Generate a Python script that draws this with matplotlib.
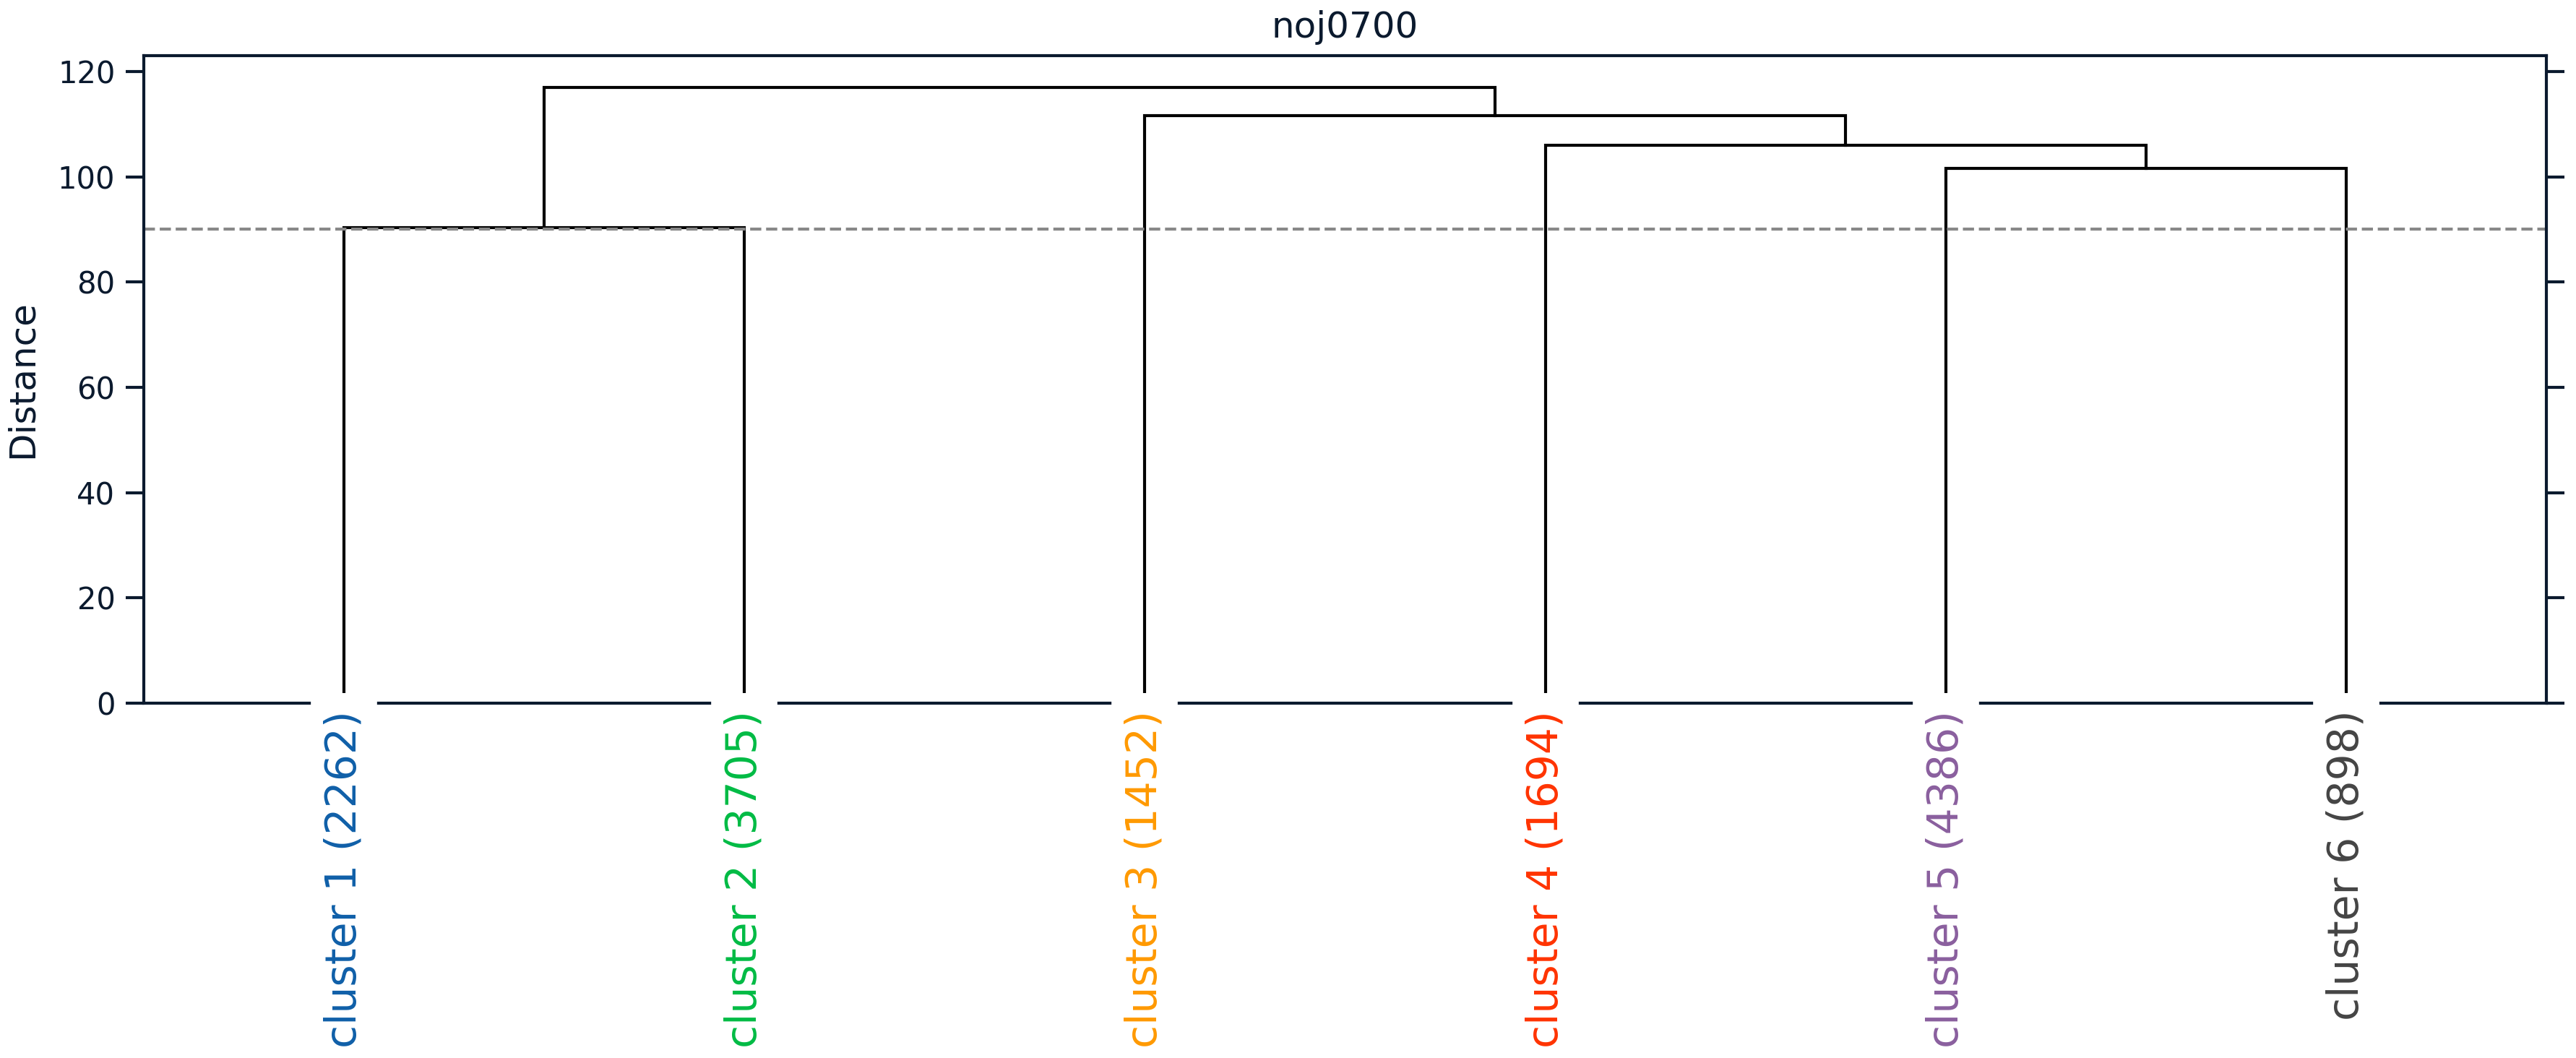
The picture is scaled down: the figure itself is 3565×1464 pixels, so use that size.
import matplotlib
matplotlib.use("Agg")
import matplotlib.pyplot as plt

# dendrogram of the 6 clusters, noj0700

leaf_names = ['cluster 1', 'cluster 2', 'cluster 3', 'cluster 4', 'cluster 5', 'cluster 6']
cluster_sizes = [2262, 3705, 1452, 1694, 4386, 898]
leaf_colors = ['#0f5fa8', '#00bb44', '#ff9900', '#ff3300', '#8a5f9e', '#444444']

# merges, scipy style: leaves are 0..5, each merge makes node 6, 7, ...
merge_left = [0, 4, 3, 2, 6]
merge_right = [1, 5, 7, 8, 9]
merge_height = [90.3, 101.6, 106.0, 111.6, 116.9]
cut_height = 90.0

ink = '#0b1a2e'

fig = plt.figure(figsize=(3565 / 300, 1464 / 300), dpi=300)
ax = fig.add_axes([199 / 3565, 1 - 973 / 1464, (3524 - 199) / 3565, (973 - 77) / 1464])

xpos = [5 + 10 * i for i in range(len(leaf_names))]
ypos = [0.0] * len(leaf_names)
for l, r, h in zip(merge_left, merge_right, merge_height):
    ax.plot([xpos[l], xpos[l], xpos[r], xpos[r]], [ypos[l], h, h, ypos[r]],
            color='black', lw=1.0, solid_joinstyle='miter', zorder=2)
    xpos.append((xpos[l] + xpos[r]) / 2)
    ypos.append(h)

ax.axhline(cut_height, color='#888888', ls='--', lw=1.0, zorder=2.2)

ax.set_xlim(0, 60)
ax.set_ylim(0, 123)
ax.set_xticks(xpos[:len(leaf_names)])
ax.set_xticklabels([f'{n} ({s})' for n, s in zip(leaf_names, cluster_sizes)],
                   rotation=90, fontsize=14)
for lab, c in zip(ax.get_xticklabels(), leaf_colors):
    lab.set_color(c)
ax.set_yticks(range(0, 121, 20))

# white x ticks cut the baseline around every leaf
ax.set_axisbelow(False)
ax.tick_params(axis='x', direction='inout', length=6.7, width=22, color='white', pad=-1)
ax.tick_params(axis='y', direction='out', length=6, width=1.0, color=ink,
               labelcolor=ink, labelsize=10, right=True)

for sp in ax.spines.values():
    sp.set_color(ink)
    sp.set_linewidth(1.0)

ax.set_ylabel('Distance', fontsize=12, color=ink, labelpad=6)
ax.set_title('noj0700', fontsize=12, color=ink, pad=6)

fig.savefig('out.png', dpi=300)
